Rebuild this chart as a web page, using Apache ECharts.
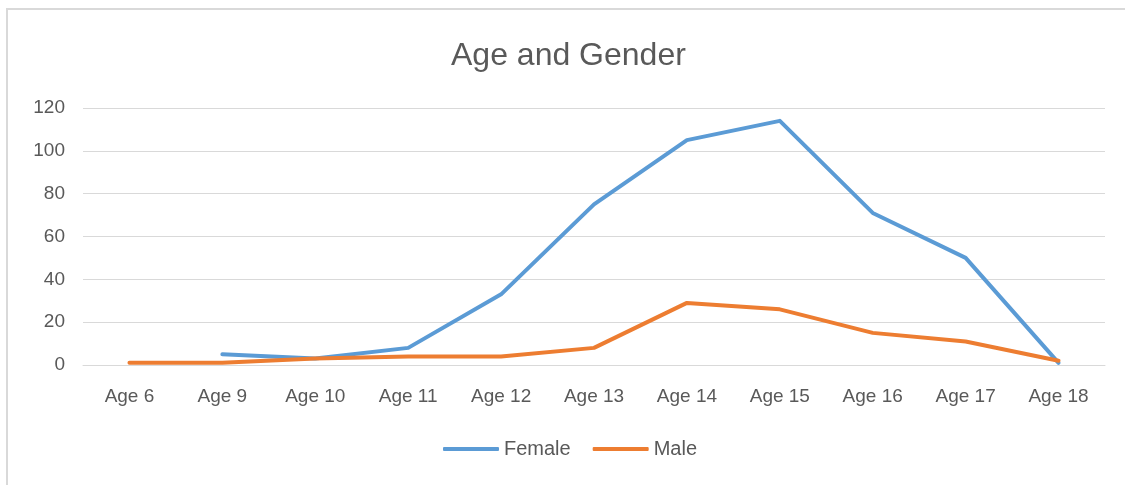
<!DOCTYPE html>
<html>
<head>
<meta charset="utf-8">
<title>Age and Gender</title>
<script src="https://cdn.jsdelivr.net/npm/echarts@6/dist/echarts.min.js"></script>
<style>
	html, body { margin: 0; padding: 0; background: #fff; }
	#mychart { width: 1125px; height: 485px; }
</style>
</head>
<body>
<div id="mychart"></div>
<script>
	// values
	const ages = ['Age 6', 'Age 9', 'Age 10', 'Age 11', 'Age 12', 'Age 13', 'Age 14', 'Age 15', 'Age 16', 'Age 17', 'Age 18']
	const female = [null, 5, 3, 8, 33, 75, 105, 114, 71, 50, 1]
	const male = [1, 1, 3, 4, 4, 8, 29, 26, 15, 11, 2]

	const font = 'Liberation Sans, Arial, sans-serif'
	const chart = echarts.init(document.getElementById('mychart'))
	var option = {
		animation: false,
		textStyle: { fontFamily: font },
		graphic: [
			{
				type: 'polyline',
				shape: { points: [[7, 490], [7, 9], [1130, 9]] },
				style: { stroke: '#d9d9d9', lineWidth: 2, fill: null }
			}
		],
		title: {
			text: 'Age and Gender',
			left: 451,
			top: 40,
			padding: 0,
			textStyle: { fontFamily: font, fontSize: 32, fontWeight: 'normal', color: '#595959' }
		},
		grid: {
			left: 83,
			right: 20,
			top: 108,
			bottom: 120
		},
		legend: {
			data: ['Female', 'Male'],
			left: 443,
			top: 439,
			padding: 0,
			icon: 'roundRect',
			itemWidth: 56,
			itemHeight: 4,
			itemGap: 22,
			textStyle: { fontFamily: font, fontSize: 20, color: '#595959' }
		},
		xAxis: {
			type: 'category',
			data: ages,
			axisTick: { show: false },
			axisLine: { lineStyle: { color: '#d9d9d9', width: 1 } },
			axisLabel: { color: '#595959', fontSize: 19, margin: 22 }
		},
		yAxis: {
			type: 'value',
			min: 0,
			max: 120,
			interval: 20,
			axisLine: { show: false },
			axisTick: { show: false },
			splitLine: { lineStyle: { color: '#d9d9d9', width: 1 } },
			axisLabel: { color: '#595959', fontSize: 19, margin: 18 }
		},
		series: [
			{
				name: 'Female',
				type: 'line',
				data: female,
				symbol: 'none',
				lineStyle: { color: '#5b9bd5', width: 4, cap: 'round', join: 'round' },
				itemStyle: { color: '#5b9bd5' }
			},
			{
				name: 'Male',
				type: 'line',
				data: male,
				symbol: 'none',
				lineStyle: { color: '#ed7d31', width: 4, cap: 'round', join: 'round' },
				itemStyle: { color: '#ed7d31' }
			}
		]
	}
	chart.setOption(option)
</script>
</body>
</html>
